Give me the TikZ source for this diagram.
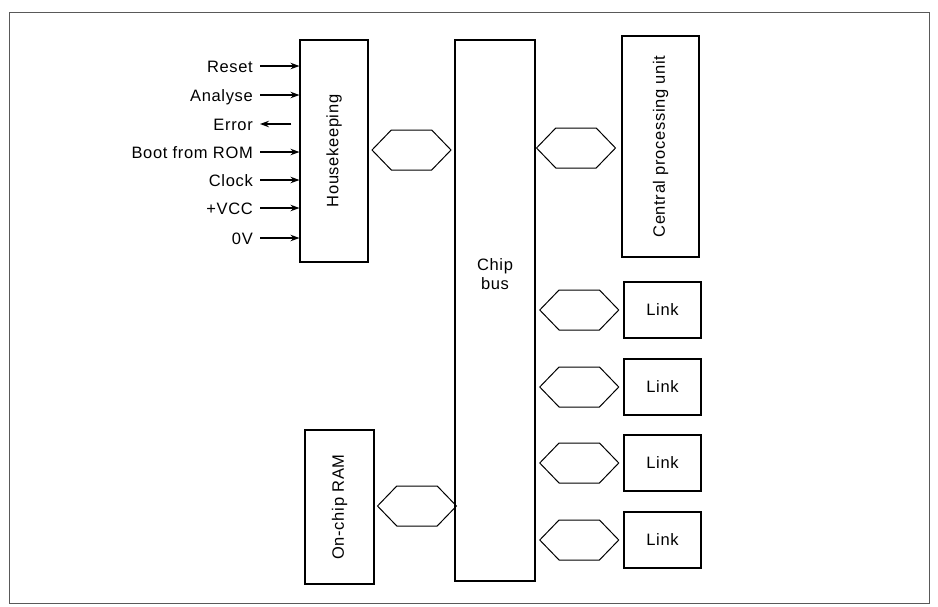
\documentclass[tikz,border=0pt]{standalone}
\usepackage{fontspec}
\setmainfont{Liberation Sans}[LetterSpace=4]
\usetikzlibrary{arrows.meta, positioning, shapes.symbols}

\tikzset{
  block/.style={draw, line width=1.1pt, inner sep=0pt},
  port/.style={draw, line width=1pt, shape=signal, signal to=east and west,
    signal pointer angle=92, minimum width=79pt, minimum height=40pt, inner sep=0pt},
  sig/.style={anchor=east, inner sep=0pt, text height=12pt, text depth=0pt},
  feed/.style={->, line width=1.2pt},
}

\begin{document}
\begin{tikzpicture}[x=1pt, y=-1pt, >={Stealth[length=9pt, width=6.5pt]},
    font=\fontsize{16.5}{19}\selectfont]
  \useasboundingbox (0,0) rectangle (938,606);
  \draw[line width=0.8pt, black!65] (9,12) rectangle (929,603);

  % main blocks
  \node[block, minimum width=68pt, minimum height=222pt] (hk) at (334,151) {};
  \node[block, minimum width=80pt, minimum height=541pt] (bus) at (495,310.5) {};
  \node[block, minimum width=77pt, minimum height=221pt] (cpu) at (660.5,146.5) {};
  \node[block, minimum width=69pt, minimum height=154pt] (ram) at (339.5,507) {};

  \node[rotate=90] (hklabel) at (hk) {Housekeeping};
  \node[rotate=90] (cpulabel) at (cpu) {Central processing unit};
  \node[rotate=90] (ramlabel) at (ram) {On-chip RAM};
  \node[align=center] (buslabel) at (495,274) {Chip\\bus};

  % bus interfaces
  \node[port] (hkport) at (411.5,150) {};
  \node[port] (cpuport) at (576,148) {};
  \node[port] (ramport) at (417,506) {};

  % links
  \foreach \i/\y in {1/310, 2/387, 3/463, 4/540} {
    \node[block, minimum width=77pt, minimum height=56pt] (link\i) at (662.5,\y) {Link};
    \node[port, left=4pt of link\i] (linkport\i) {};
  }

  % housekeeping signals
  \foreach \name/\txt/\y in {reset/Reset/66, analyse/Analyse/95, boot/Boot from ROM/152,
      clock/Clock/180, vcc/+VCC/208, zero/0V/238} {
    \node[sig] (\name) at (253,\y) {\txt};
    \draw[feed] ([xshift=7pt]\name.east) -- (\name.east -| hk.west);
  }
  \node[sig] (error) at (253,124) {Error};
  \draw[feed] ([xshift=-8pt]error.east -| hk.west) -- ([xshift=7pt]error.east);
\end{tikzpicture}
\end{document}
